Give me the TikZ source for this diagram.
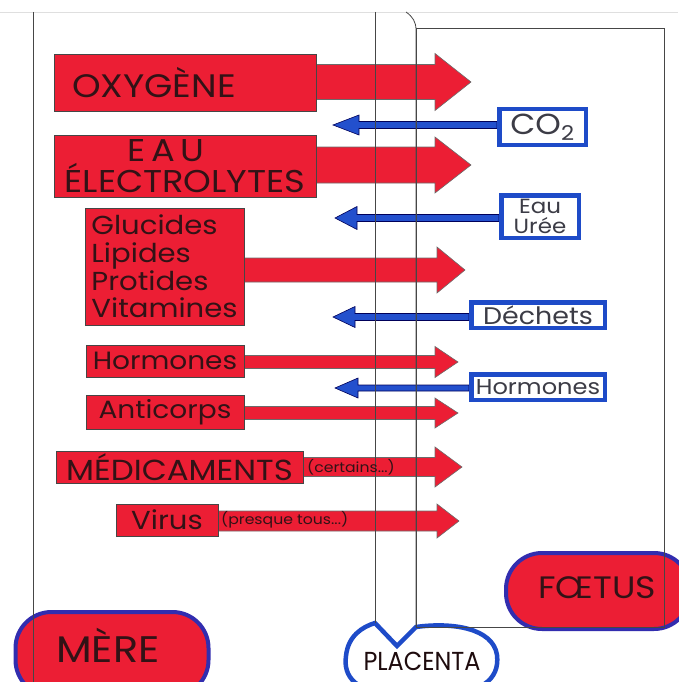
\documentclass[tikz,border=0pt]{standalone}
\usepackage{fontspec}
\setmainfont{Poppins}
\newfontfamily\wfont[FakeStretch=1.12]{Poppins}
\newfontfamily\nfont[FakeStretch=0.92]{Poppins}
\usetikzlibrary{calc,backgrounds}
\definecolor{redfill}{RGB}{236,30,52}
\definecolor{bluefill}{RGB}{35,80,205}
\definecolor{blueedge}{RGB}{30,75,200}
\definecolor{blobedge}{RGB}{50,45,175}
\definecolor{inkline}{RGB}{70,70,70}
\definecolor{redtxt}{RGB}{50,18,22}
\definecolor{bluetxt}{RGB}{60,60,70}
\newcommand\fatarrow[6]{%
  \path[#1] let \p1=(#2), \p2=(#3) in
    (\x1,{\y2+#4}) -- ({\x2-(#6)},{\y2+#4}) -- ({\x2-(#6)},{\y2+#5}) -- (\p2)
    -- ({\x2-(#6)},{\y2-#5}) -- ({\x2-(#6)},{\y2-#4}) -- (\x1,{\y2-#4}) -- cycle;}
\begin{document}
\begin{tikzpicture}[x=1pt,y=-1pt,
  redbox/.style={fill=redfill,draw=inkline,line width=0.8pt,inner sep=0pt,text=redtxt,font=\wfont},
  bluebox/.style={fill=white,draw=blueedge,line width=4.5pt,inner sep=0pt,text=bluetxt,font=\wfont},
  redarrow/.style={fill=redfill,draw=inkline!80,line width=0.6pt},
  bluearrow/.style={fill=bluefill,draw=blue!35!black,line width=0.6pt},
  redblob/.style={fill=redfill,draw=blobedge,line width=4pt,rounded corners=36pt,inner sep=0pt},
  blobtxt/.style={inner sep=0pt,text height=0.7em,text depth=0pt,anchor=base},
  thinline/.style={draw=inkline,line width=0.8pt},
  smalltxt/.style={text=redtxt,font=\wfont\fontsize{14}{15}\selectfont,inner sep=0pt}]
\useasboundingbox (0,0) rectangle (678,682);
\draw[gray!25,line width=0.6pt] (0,12) -- (678,12);

% blobs
\node[redblob,minimum width=193pt,minimum height=84pt] (mere) at (112,654) {};
\node[blobtxt,text=redtxt,font=\wfont\fontsize{37}{40}\selectfont] (meretxt) at (108,662) {MÈRE};
\node[redblob,minimum width=184pt,minimum height=76pt] (foetus) at (598,591) {};
\node[blobtxt,text=redtxt,font=\wfont\fontsize{31}{34}\selectfont] (foetustxt) at (597,598) {FŒTUS};
\draw[fill=white,draw=blueedge,line width=4.5pt] (375,623) -- (397,646) -- (416,627)
  .. controls (452,622) and (493,628) .. (497,655)
  .. controls (500,680) and (480,694) .. (440,694) -- (400,694)
  .. controls (355,694) and (343,676) .. (346,656)
  .. controls (348,636) and (362,627) .. (375,623) -- cycle;
\node[blobtxt,text=redtxt!60!black,font=\nfont\fontsize{26}{28}\selectfont] (placenta) at (422,670) {PLACENTA};

% frame lines
\draw[thinline] (33,12) -- (33,682);
\draw[thinline] (375,12) -- (375,623);
\draw[thinline] (406,12) .. controls (413,17) and (416,22) .. (416,30) -- (416,627);
\draw[thinline] (416,28) rectangle (664,627);

% red boxes
\node[redbox,minimum width=262pt,minimum height=57pt,text width=226pt,inner xsep=18pt,align=left,font=\wfont\fontsize{32.5}{34}\selectfont] (oxy) at (185,82.5) {OXYGÈNE};
\node[redbox,minimum width=262pt,minimum height=62pt,align=center,font=\wfont\fontsize{31.5}{31}\selectfont] (eau) at (185,166) {\hspace*{-38pt}E\,A\,U\\ÉLECTROLYTES};
\node[redbox,minimum width=159pt,minimum height=117pt,align=left,font=\wfont\fontsize{26}{27.7}\selectfont] (glu) at (164.5,266.5) {Glucides\\Lipides\\Protides\\Vitamines};
\node[redbox,minimum width=158pt,minimum height=32pt,font=\wfont\fontsize{25}{26}\selectfont] (horr) at (165,361) {Hormones};
\node[redbox,minimum width=158pt,minimum height=34pt,font=\wfont\fontsize{25}{26}\selectfont] (anti) at (165,412) {Anticorps};
\node[redbox,minimum width=247pt,minimum height=32pt,font=\wfont\fontsize{29}{30}\selectfont] (med) at (179.5,467) {MÉDICAMENTS};
\node[redbox,minimum width=102pt,minimum height=32pt,font=\wfont\fontsize{26}{27}\selectfont] (vir) at (167,520) {Virus};

% blue boxes
\node[bluebox,minimum width=86.5pt,minimum height=35.5pt,font=\wfont\fontsize{29}{31}\selectfont] (co2) at (542.5,127) {CO\textsubscript{2}};
\node[bluebox,minimum width=77.5pt,minimum height=42.5pt,align=center,font=\wfont\fontsize{20.5}{20}\selectfont] (uree) at (540,216.5) {Eau\\Urée};
\node[bluebox,minimum width=133.5pt,minimum height=25.5pt,font=\wfont\fontsize{24}{25}\selectfont] (dech) at (538,315) {Déchets};
\node[bluebox,minimum width=133.5pt,minimum height=25.5pt,font=\wfont\fontsize{21.5}{22}\selectfont] (horb) at (538,387) {Hormones};

% arrow tips
\coordinate (oxytip) at (471,82);
\coordinate (eautip) at (471,165);
\coordinate (glutip) at (465,270);
\coordinate (horrtip) at (458,362);
\coordinate (antitip) at (458,413);
\coordinate (medtip) at (462,467);
\coordinate (virtip) at (459,521);
\coordinate (co2tip) at (333,125);
\coordinate (ureetip) at (335,218);
\coordinate (dechtip) at (333,317);
\coordinate (horbtip) at (335,388);

\begin{scope}[on background layer]
\fatarrow{redarrow}{oxy.east}{oxytip}{17.5pt}{28.5pt}{36pt}
\fatarrow{redarrow}{eau.east}{eautip}{18pt}{28pt}{36pt}
\fatarrow{redarrow}{glu.east}{glutip}{12pt}{23pt}{28pt}
\fatarrow{redarrow}{horr.east}{horrtip}{6.5pt}{15.5pt}{23pt}
\fatarrow{redarrow}{anti.east}{antitip}{6.5pt}{15pt}{23pt}
\fatarrow{redarrow}{med.east}{medtip}{9.5pt}{20pt}{27pt}
\fatarrow{redarrow}{vir.east}{virtip}{10pt}{17pt}{22pt}
\fatarrow{bluearrow}{co2.west}{co2tip}{3.5pt}{10pt}{-26pt}
\fatarrow{bluearrow}{uree.west}{ureetip}{3.5pt}{11.5pt}{-22pt}
\fatarrow{bluearrow}{dech.west}{dechtip}{3.5pt}{10.5pt}{-22pt}
\fatarrow{bluearrow}{horb.west}{horbtip}{3pt}{10pt}{-23pt}
\end{scope}

\node[smalltxt,anchor=west] (cert) at (307,467) {(certains...)};
\node[smalltxt,anchor=west] (pres) at (221,520) {(presque tous...)};
\end{tikzpicture}
\end{document}
